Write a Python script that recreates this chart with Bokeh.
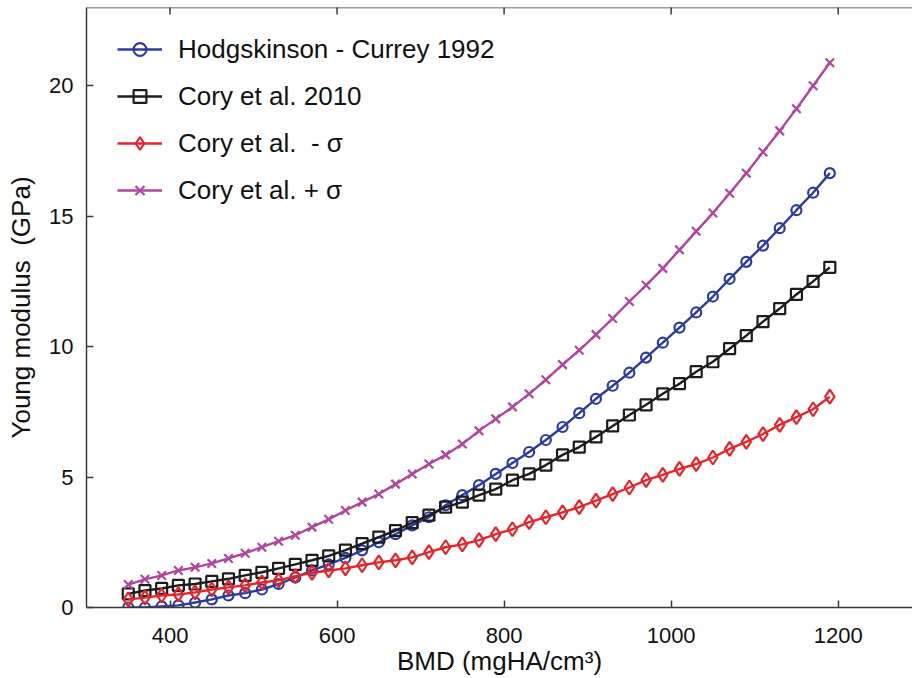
import math
from bokeh.plotting import figure
from bokeh.models import Range1d, Span
from bokeh.embed import file_html
from bokeh.resources import INLINE

# BMD grid (mgHA/cm3)
bmd = [350, 370, 390, 410, 430, 450, 470, 490, 510, 530, 550, 570, 590, 610, 630,
       650, 670, 690, 710, 730, 750, 770, 790, 810, 830, 850, 870, 890, 910, 930,
       950, 970, 990, 1010, 1030, 1050, 1070, 1090, 1110, 1130, 1150, 1170, 1190]

hodgskinson = [0.0, 0.0, 0.04, 0.08, 0.19, 0.31, 0.46, 0.55, 0.69, 0.9, 1.15, 1.42, 1.65, 1.9, 2.19,
               2.5, 2.81, 3.15, 3.46, 3.92, 4.31, 4.69, 5.12, 5.54, 5.96, 6.42, 6.92, 7.45, 8.0, 8.5,
               9.0, 9.58, 10.15, 10.73, 11.31, 11.92, 12.6, 13.25, 13.87, 14.54, 15.23, 15.9, 16.65]

cory = [0.52, 0.65, 0.73, 0.85, 0.9, 1.0, 1.1, 1.23, 1.35, 1.5, 1.65, 1.81, 1.98, 2.2, 2.45,
        2.7, 2.95, 3.25, 3.54, 3.85, 4.04, 4.31, 4.54, 4.88, 5.12, 5.46, 5.85, 6.15, 6.54, 6.96,
        7.38, 7.77, 8.19, 8.58, 9.04, 9.42, 9.92, 10.42, 10.96, 11.46, 12.0, 12.5, 13.04]

cory_minus = [0.31, 0.38, 0.46, 0.5, 0.58, 0.69, 0.77, 0.85, 0.96, 1.04, 1.2, 1.33, 1.42, 1.5, 1.62,
              1.73, 1.81, 1.92, 2.12, 2.31, 2.42, 2.58, 2.81, 3.0, 3.27, 3.46, 3.65, 3.85, 4.1, 4.35,
              4.6, 4.88, 5.08, 5.31, 5.5, 5.75, 6.08, 6.35, 6.65, 7.0, 7.3, 7.6, 8.08]

cory_plus = [0.88, 1.08, 1.23, 1.42, 1.54, 1.69, 1.88, 2.08, 2.31, 2.54, 2.77, 3.08, 3.38, 3.72, 4.04,
             4.35, 4.73, 5.12, 5.5, 5.85, 6.27, 6.77, 7.23, 7.69, 8.19, 8.73, 9.31, 9.86, 10.46, 11.08,
             11.73, 12.35, 13.0, 13.71, 14.42, 15.12, 15.88, 16.65, 17.46, 18.27, 19.12, 20.0, 20.88]

x_ticks = [400, 600, 800, 1000, 1200]
y_ticks = [0, 5, 10, 15, 20]
x_lo, x_hi = 300, 1289
y_lo, y_hi = 0, 23

FONT = "Liberation Sans"
AXIS_COLOR = "#3a3a3a"

p = figure(width=912, height=678, x_range=Range1d(x_lo, x_hi), y_range=Range1d(y_lo, y_hi),
           output_backend="svg", toolbar_location=None,
           min_border_left=86, min_border_right=0, min_border_top=7, min_border_bottom=0)
p.grid.visible = False
p.outline_line_color = None
p.background_fill_color = "white"

for ax in (p.xaxis[0], p.yaxis[0]):
    ax.axis_line_color = AXIS_COLOR
    ax.axis_line_width = 1.5
    ax.major_tick_line_color = AXIS_COLOR
    ax.major_tick_line_width = 1.5
    ax.major_tick_in = 7
    ax.major_tick_out = 0
    ax.minor_tick_line_color = None
    ax.major_label_text_font = FONT
    ax.major_label_text_color = "#111111"
    ax.major_label_text_font_size = "22px"
    ax.axis_label_text_font = FONT
    ax.axis_label_text_font_size = "26px"
    ax.axis_label_text_font_style = "normal"
    ax.axis_label_text_color = "#111111"

p.xaxis.ticker = x_ticks
p.yaxis.ticker = y_ticks
p.xaxis.major_label_standoff = 20
p.yaxis.major_label_standoff = 13
p.xaxis.axis_label = "BMD (mgHA/cm³)"
p.yaxis.axis_label = "Young modulus \u00a0(GPa)"
p.xaxis.axis_label_standoff = 0
p.yaxis.axis_label_standoff = 10

# top frame edge with inward ticks (mirrored x ticks)
p.add_layout(Span(location=y_hi, dimension="width", line_color=AXIS_COLOR, line_width=1.5))
p.scatter(x_ticks, [y_hi] * len(x_ticks), marker="dash", angle=math.pi / 2, size=14,
          line_color=AXIS_COLOR, line_width=1.5)

series = [
    ("Hodgskinson - Currey 1992", hodgskinson, "#2c3c9e", "circle", 10),
    ("Cory et al. 2010", cory, "#1c1c1c", "square", 11),
    ("Cory et al.  - σ", cory_minus, "#e3262b", "diamond", 14),
    ("Cory et al. + σ", cory_plus, "#b0469f", "x", 12),
]

for label, ys, color, marker, size in series:
    p.line(bmd, ys, line_color=color, line_width=2.4, legend_label=label)
    p.scatter(bmd, ys, marker=marker, size=size, line_color=color, line_width=2.2,
              fill_color=None, legend_label=label)

lg = p.legend[0]
lg.location = (31, 401)
lg.border_line_color = None
lg.background_fill_alpha = 0
lg.margin = 0
lg.padding = 0
lg.label_text_font = FONT
lg.label_text_font_size = "26px"
lg.label_text_color = "#111111"
lg.glyph_width = 45
lg.glyph_height = 32
lg.label_height = 32
lg.spacing = 15
lg.label_standoff = 16

open("out.html", "w").write(file_html(p, INLINE))
